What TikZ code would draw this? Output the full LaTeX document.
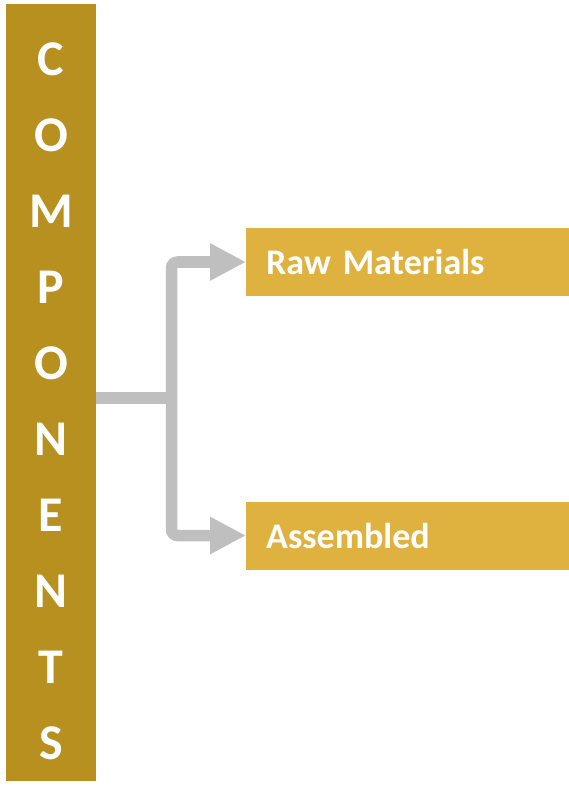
\documentclass[tikz,border=0pt]{standalone}
\usepackage{fontspec}
\setmainfont{Carlito}
\usetikzlibrary{arrows.meta}
\definecolor{bargold}{HTML}{B8901F}
\definecolor{boxgold}{HTML}{DFB13F}
\definecolor{conngray}{HTML}{BFBFBF}
\begin{document}
\begin{tikzpicture}
		[x=1pt, y=-1pt,
		bar node/.style={fill=bargold, minimum width=90pt, minimum height=777pt, inner sep=0pt},
		letter node/.style={anchor=base, text=white, font=\fontsize{50}{50}\selectfont\bfseries, inner sep=0pt},
		item node/.style={fill=boxgold, anchor=west, minimum width=323pt, minimum height=68pt, inner xsep=20pt, text=white, align=left, text width=283pt, font=\fontsize{36}{36}\selectfont\bfseries},
		conn/.style={draw=conngray, line width=11.5pt, rounded corners=6pt, -{Triangle[length=36pt, width=35pt]}}]
		\useasboundingbox (0,0) rectangle (569,791);
			\node[bar node] (bar) at (51, 392.5) {};
			\foreach \ch [count=\i from 0] in {C,O,M,P,O,N,E,N,T,S}{
				\node[letter node] (letter\i) at (51, 76+75.9*\i) {\ch};
			}
			\node[item node] (raw) at (246, 262) {Raw Materials};
			\node[item node] (assembled) at (246, 535.5) {Assembled};
			\coordinate (hub) at (171.5, 398);
	
			\draw[conngray, line width=11.5pt] (bar.east |- hub) -- (hub);
			\draw[conn] (hub) |- (raw.west);
			\draw[conn] (hub) |- (assembled.west);
		\end{tikzpicture}
\end{document}
